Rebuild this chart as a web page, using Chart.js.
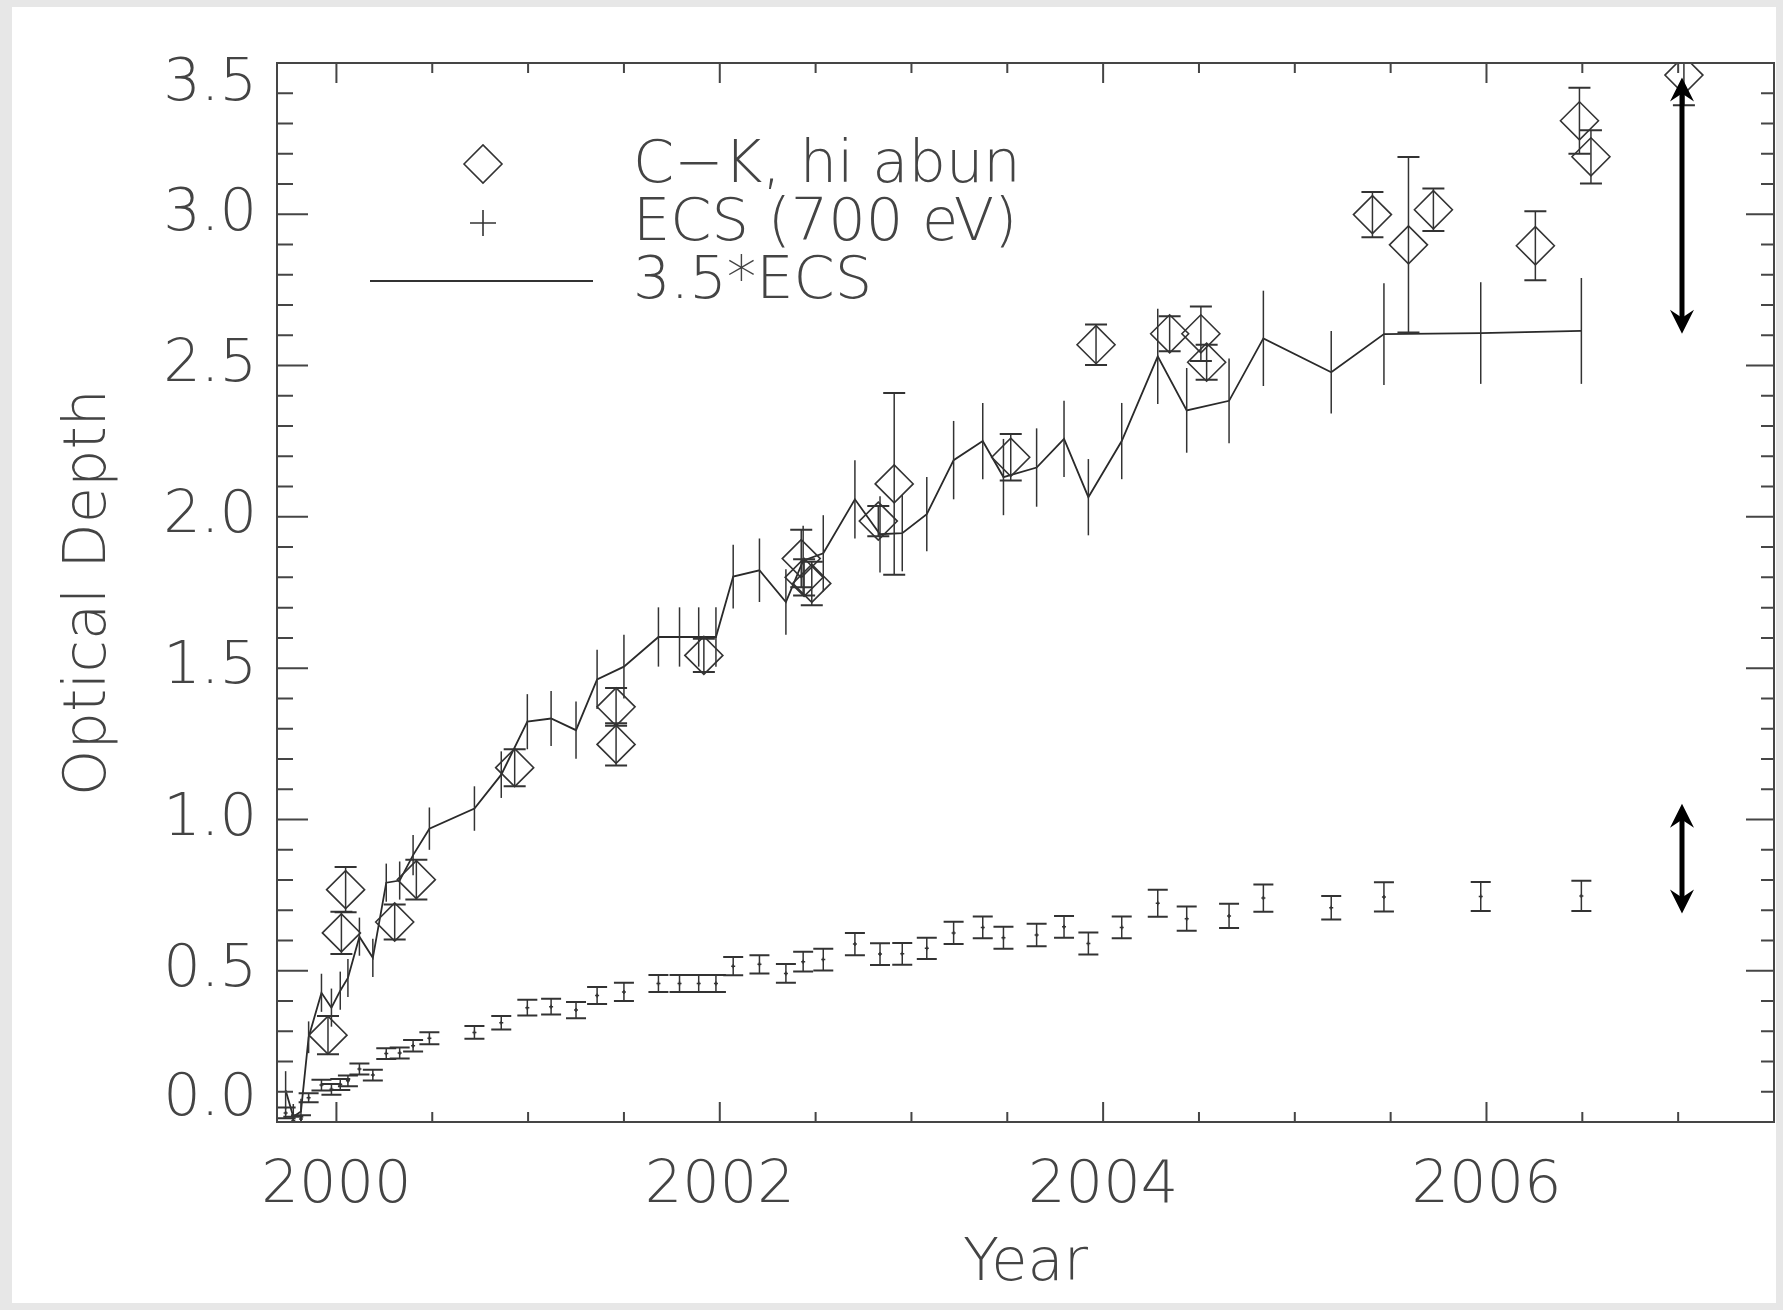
<!DOCTYPE html>
<html>
<head>
<meta charset="utf-8">
<title>Optical Depth vs Year</title>
<script src="https://cdn.jsdelivr.net/npm/chart.js@4.4.1/dist/chart.umd.min.js"></script>
<style>
  html, body { margin: 0; padding: 0; overflow: hidden; background: #e8e8e8; }
  #wrap { width: 1783px; height: 1310px; position: relative; }
</style>
</head>
<body>
<div id="wrap"><canvas id="chart"></canvas></div>
<script>
// C-K fits, high abundance
const ckYears = [1999.956, 2000.026, 2000.048, 2000.304, 2000.417, 2000.930, 2001.459, 2001.459,
  2001.917, 2002.425, 2002.440, 2002.480, 2002.827, 2002.910, 2003.518, 2003.963, 2004.347,
  2004.510, 2004.540, 2005.405, 2005.593, 2005.723, 2006.255, 2006.485, 2006.545, 2007.030]
const ckDepth = [0.287, 0.625, 0.768, 0.661, 0.801, 1.171, 1.372, 1.248,
  1.542, 1.862, 1.800, 1.780, 1.986, 2.109, 2.197, 2.569, 2.605,
  2.605, 2.511, 2.999, 2.899, 3.015, 2.896, 3.309, 3.190, 3.460]
const ckErr = [0.063, 0.070, 0.075, 0.058, 0.066, 0.061, 0.062, 0.070,
  0.055, 0.095, 0.060, 0.072, 0.050, 0.300, 0.077, 0.067, 0.058,
  0.090, 0.058, 0.075, 0.290, 0.070, 0.114, 0.109, 0.088, 0.100]

// ECS depth at 700 eV
const ecsYears = [1999.735, 1999.775, 1999.815, 1999.855, 1999.922, 1999.974, 2000.020, 2000.060,
  2000.120, 2000.190, 2000.260, 2000.330, 2000.400, 2000.485, 2000.720, 2000.860, 2000.996,
  2001.120, 2001.250, 2001.360, 2001.500, 2001.680, 2001.790, 2001.890, 2001.980, 2002.070,
  2002.207, 2002.345, 2002.435, 2002.540, 2002.705, 2002.836, 2002.952, 2003.080, 2003.220,
  2003.372, 2003.480, 2003.653, 2003.796, 2003.923, 2004.097, 2004.285, 2004.436, 2004.657,
  2004.836, 2005.190, 2005.465, 2005.970, 2006.495]
const ecsDepth = [0.030, 0.005, 0.010, 0.080, 0.122, 0.108, 0.124, 0.136,
  0.175, 0.155, 0.226, 0.228, 0.252, 0.277, 0.296, 0.328, 0.378,
  0.381, 0.370, 0.418, 0.430, 0.458, 0.458, 0.458, 0.458, 0.515,
  0.521, 0.491, 0.530, 0.537, 0.588, 0.555, 0.556, 0.574, 0.625,
  0.643, 0.609, 0.618, 0.645, 0.590, 0.643, 0.723, 0.672, 0.681,
  0.740, 0.708, 0.744, 0.745, 0.747]
const ecsErr = [0.018, 0.012, 0.012, 0.015, 0.018, 0.018, 0.018, 0.018,
  0.018, 0.018, 0.018, 0.018, 0.019, 0.020, 0.021, 0.022, 0.026,
  0.026, 0.027, 0.028, 0.030, 0.028, 0.028, 0.028, 0.028, 0.030,
  0.030, 0.031, 0.033, 0.036, 0.037, 0.036, 0.036, 0.035, 0.037,
  0.036, 0.036, 0.037, 0.036, 0.036, 0.036, 0.045, 0.040, 0.040,
  0.045, 0.039, 0.048, 0.048, 0.050]

// the line is the ECS curve scaled by the legend factor
const ECS_FACTOR = 3.5
const ecsScaled = ecsDepth.map(v => v * ECS_FACTOR)
const ecsScaledErr = ecsErr.map(e => e * ECS_FACTOR)

// double-headed range arrows at the right
const arrowYears = [2007.02, 2007.02]
const arrowTop = [3.452, 1.052]
const arrowBottom = [2.605, 0.689]

const xLabels = ['2000', '2002', '2004', '2006']
const yLabels = ['0.0', '0.5', '1.0', '1.5', '2.0', '2.5', '3.0', '3.5']

const INK = '#333'
const TEXT = '#444'
const FONT = { family: "'DejaVu Sans', 'Liberation Sans', sans-serif", size: 59, weight: 300, lineHeight: 1 }
const fontString = `${FONT.weight} ${FONT.size}px ${FONT.family}`

const toPoints = (xs, ys) => xs.map((x, i) => ({ x, y: ys[i] }))
const isMajorX = v => xLabels.includes(String(v))
const isMajorY = v => yLabels.includes(v.toFixed(1)) && Math.abs(v * 2 - Math.round(v * 2)) < 1e-6

const pageFrame = {
  id: 'pageFrame',
  beforeDraw(chart) {
    const { ctx, width, height } = chart
    ctx.save()
    ctx.fillStyle = '#e7e7e7'
    ctx.fillRect(0, 0, width, height)
    ctx.fillStyle = '#fff'
    ctx.fillRect(12, 7, width - 19, height - 14)
    ctx.restore()
  }
}

const errorBars = {
  id: 'errorBars',
  afterDatasetsDraw(chart) {
    const { ctx, chartArea: a, scales: { x, y } } = chart
    ctx.save()
    ctx.beginPath()
    ctx.rect(a.left, a.top, a.right - a.left, a.bottom - a.top)
    ctx.clip()
    chart.data.datasets.forEach(ds => {
      if (!ds.errors) return
      ctx.strokeStyle = INK
      ds.data.forEach((p, i) => {
        const px = x.getPixelForValue(p.x)
        const lo = y.getPixelForValue(p.y - ds.errors[i])
        const hi = y.getPixelForValue(p.y + ds.errors[i])
        ctx.lineWidth = 1.5
        ctx.beginPath()
        ctx.moveTo(px, lo)
        ctx.lineTo(px, hi)
        ctx.stroke()
        if (ds.capWidth) {
          ctx.lineWidth = 2
          ctx.beginPath()
          ctx.moveTo(px - ds.capWidth, lo)
          ctx.lineTo(px + ds.capWidth, lo)
          ctx.moveTo(px - ds.capWidth, hi)
          ctx.lineTo(px + ds.capWidth, hi)
          ctx.stroke()
        }
      })
    })
    ctx.restore()
  }
}

// box round the plot with inward ticks on every side
const frameTicks = {
  id: 'frameTicks',
  afterDraw(chart) {
    const { ctx, chartArea: a, scales: { x, y } } = chart
    ctx.save()
    ctx.strokeStyle = '#454545'
    ctx.lineWidth = 2
    ctx.strokeRect(a.left, a.top, a.right - a.left, a.bottom - a.top)
    ctx.beginPath()
    x.ticks.forEach(t => {
      const px = x.getPixelForValue(t.value)
      const len = isMajorX(t.value) ? 20 : 10
      ctx.moveTo(px, a.bottom)
      ctx.lineTo(px, a.bottom - len)
      ctx.moveTo(px, a.top)
      ctx.lineTo(px, a.top + len)
    })
    y.ticks.forEach(t => {
      const py = y.getPixelForValue(t.value)
      const major = isMajorY(t.value)
      ctx.moveTo(a.left, py)
      ctx.lineTo(a.left + (major ? 31 : 16), py)
      ctx.moveTo(a.right, py)
      ctx.lineTo(a.right - (major ? 28 : 13), py)
    })
    ctx.stroke()
    ctx.restore()
  }
}

// y tick labels, the end ones kept inside the frame
const yTickLabels = {
  id: 'yTickLabels',
  afterDraw(chart) {
    const { ctx, chartArea: a, scales: { y } } = chart
    const half = 22
    ctx.save()
    ctx.font = fontString
    ctx.fillStyle = TEXT
    ctx.textAlign = 'right'
    ctx.textBaseline = 'middle'
    yLabels.forEach(lbl => {
      const py = Math.min(Math.max(y.getPixelForValue(Number(lbl)), a.top + half), a.bottom - half)
      ctx.fillText(lbl, a.left - 20, py)
    })
    ctx.restore()
  }
}

function arrowHead(ctx, x, tip, dir) {
  ctx.beginPath()
  ctx.moveTo(x, tip)
  ctx.lineTo(x + 12, tip + dir * 24)
  ctx.lineTo(x, tip + dir * 16)
  ctx.lineTo(x - 12, tip + dir * 24)
  ctx.closePath()
  ctx.fill()
}

const rangeArrows = {
  id: 'rangeArrows',
  afterDraw(chart) {
    const { ctx, scales: { x, y } } = chart
    ctx.save()
    ctx.fillStyle = '#000'
    ctx.strokeStyle = '#000'
    ctx.lineWidth = 5
    arrowYears.forEach((yr, i) => {
      const px = x.getPixelForValue(yr)
      const top = y.getPixelForValue(arrowTop[i])
      const bot = y.getPixelForValue(arrowBottom[i])
      ctx.beginPath()
      ctx.moveTo(px, top + 14)
      ctx.lineTo(px, bot - 14)
      ctx.stroke()
      arrowHead(ctx, px, top, 1)
      arrowHead(ctx, px, bot, -1)
    })
    ctx.restore()
  }
}

// legend in the upper left of the plot
const legendBox = {
  id: 'legendBox',
  afterDraw(chart) {
    const { ctx } = chart
    const sets = chart.data.datasets
    const symX = 483, textX = 633
    const rows = [164, 223, 281]
    ctx.save()
    ctx.strokeStyle = INK
    ctx.lineWidth = 1.6
    ctx.beginPath()
    ctx.moveTo(symX - 19, rows[0])
    ctx.lineTo(symX, rows[0] - 19)
    ctx.lineTo(symX + 19, rows[0])
    ctx.lineTo(symX, rows[0] + 19)
    ctx.closePath()
    ctx.stroke()
    ctx.beginPath()
    ctx.moveTo(symX - 13, rows[1])
    ctx.lineTo(symX + 13, rows[1])
    ctx.moveTo(symX, rows[1] - 13)
    ctx.lineTo(symX, rows[1] + 13)
    ctx.stroke()
    ctx.lineWidth = 1.8
    ctx.beginPath()
    ctx.moveTo(370, rows[2])
    ctx.lineTo(593, rows[2])
    ctx.stroke()
    ctx.fillStyle = TEXT
    ctx.font = fontString
    ctx.textBaseline = 'alphabetic'
    const baselines = [182, 240, 298]
    sets.forEach((ds, i) => ctx.fillText(ds.label, textX, baselines[i]))
    ctx.restore()
  }
}

new Chart(document.getElementById('chart'), {
  type: 'scatter',
  data: {
    datasets: [
      {
        label: 'C\u2212K, hi abun',
        data: toPoints(ckYears, ckDepth),
        errors: ckErr,
        capWidth: 11,
        pointStyle: 'rectRot',
        pointRadius: 19,
        borderColor: INK,
        backgroundColor: 'rgba(0,0,0,0)',
        borderWidth: 1.6
      },
      {
        label: 'ECS (700 eV)',
        data: toPoints(ecsYears, ecsDepth),
        errors: ecsErr,
        capWidth: 10,
        pointStyle: 'cross',
        pointRadius: 2,
        borderColor: INK,
        borderWidth: 1.5
      },
      {
        label: '3.5*ECS',
        data: toPoints(ecsYears, ecsScaled),
        errors: ecsScaledErr,
        showLine: true,
        pointRadius: 0,
        borderColor: '#2a2a2a',
        borderWidth: 1.8
      }
    ]
  },
  options: {
    responsive: true,
    maintainAspectRatio: false,
    animation: false,
    layout: { autoPadding: false, padding: { top: 63, right: 9, left: 0, bottom: 0 } },
    plugins: { legend: { display: false }, tooltip: { enabled: false } },
    scales: {
      x: {
        type: 'linear',
        min: 1999.69,
        max: 2007.5,
        grid: { display: false },
        border: { display: false },
        ticks: {
          stepSize: 0.5,
          includeBounds: false,
          autoSkip: false,
          maxRotation: 0,
          minRotation: 0,
          padding: 27,
          color: TEXT,
          font: FONT,
          callback: v => isMajorX(v) ? String(v) : ''
        },
        title: { display: true, text: 'Year', color: TEXT, font: FONT, padding: { top: 0, bottom: 16 } },
        afterFit: s => { s.height = 188; s.paddingRight = 0 }
      },
      y: {
        min: 0,
        max: 3.5,
        grid: { display: false },
        border: { display: false },
        ticks: { stepSize: 0.1, autoSkip: false, display: false },
        title: { display: true, text: 'Optical Depth', color: TEXT, font: FONT, padding: { top: 60, bottom: 0 } },
        afterFit: s => { s.width = 277 }
      }
    }
  },
  plugins: [pageFrame, errorBars, frameTicks, yTickLabels, rangeArrows, legendBox]
})
</script>
</body>
</html>
